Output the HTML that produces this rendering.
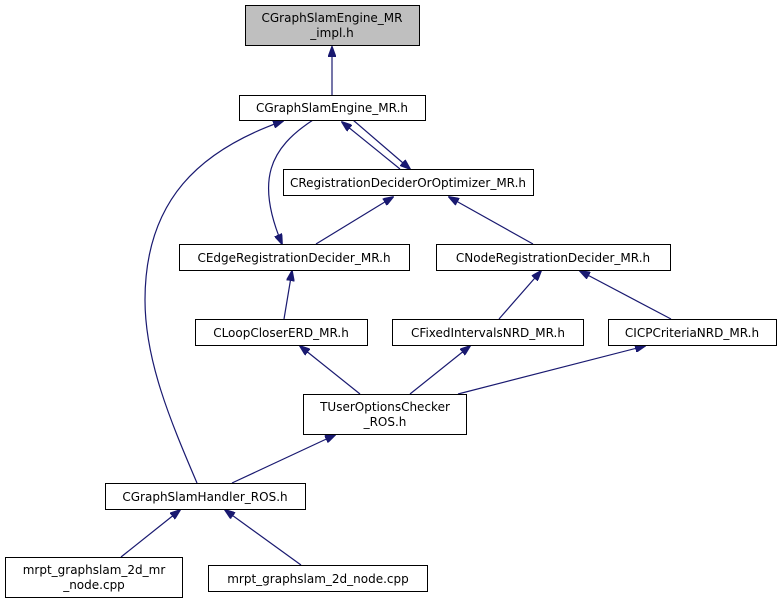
<!DOCTYPE html>
<html><head><meta charset="utf-8"><style>
html,body{margin:0;padding:0;background:#fff;}
svg{display:block;}
text{font-family:"DejaVu Sans","Liberation Sans",sans-serif;font-size:12px;fill:#000;}
</style></head><body>
<svg width="780" height="604" viewBox="0 0 780 604" xmlns="http://www.w3.org/2000/svg">
<defs>
<marker id="a" markerWidth="11" markerHeight="8" refX="10" refY="4" orient="auto" markerUnits="userSpaceOnUse">
<path d="M0,0 L11,4 L0,8 Z" fill="#191970" stroke="#191970"/>
</marker>
</defs>
<g fill="none" stroke="#191970" stroke-width="1.2" marker-end="url(#a)">
<path d="M332,95 L332,47"/>
<path d="M400,169 L342,122"/>
<path d="M353,120 L410,169"/>
<path d="M313,120 C270,148 255,180 282,244"/>
<path d="M197,483 C170,420 145,360 145,300 C145,200 200,150 283,121"/>
<path d="M316,244 L393,197"/>
<path d="M533,244 L449,197"/>
<path d="M284,319 L292,271"/>
<path d="M499,319 L541,271"/>
<path d="M671,319 L580,271"/>
<path d="M360,394 L300,346"/>
<path d="M410,394 L470,346"/>
<path d="M458,394 L645,346"/>
<path d="M232,483 L335,435"/>
<path d="M121,557 L180,510"/>
<path d="M301,565 L225,510"/>
</g>
<g stroke="#000" stroke-width="1">
<rect x="245.5" y="5.5" width="174" height="40" fill="#bfbfbf"/>
<rect x="239.5" y="95.5" width="186" height="25" fill="#fff"/>
<rect x="283.5" y="169.5" width="250" height="26" fill="#fff"/>
<rect x="179.5" y="244.5" width="230" height="26" fill="#fff"/>
<rect x="436.5" y="244.5" width="234" height="26" fill="#fff"/>
<rect x="195.5" y="319.5" width="172" height="26" fill="#fff"/>
<rect x="392.5" y="319.5" width="191" height="26" fill="#fff"/>
<rect x="608.5" y="319.5" width="168" height="26" fill="#fff"/>
<rect x="303.5" y="394.5" width="163" height="40" fill="#fff"/>
<rect x="105.5" y="483.5" width="200" height="26" fill="#fff"/>
<rect x="5.5" y="557.5" width="177" height="40" fill="#fff"/>
<rect x="208.5" y="565.5" width="219" height="26" fill="#fff"/>
</g>
<g text-anchor="middle">
<text x="332" y="22">CGraphSlamEngine_MR</text>
<text x="332" y="37">_impl.h</text>
<text x="332" y="112">CGraphSlamEngine_MR.h</text>
<text x="408" y="187">CRegistrationDeciderOrOptimizer_MR.h</text>
<text x="294" y="262">CEdgeRegistrationDecider_MR.h</text>
<text x="553" y="262">CNodeRegistrationDecider_MR.h</text>
<text x="281" y="337">CLoopCloserERD_MR.h</text>
<text x="488" y="337">CFixedIntervalsNRD_MR.h</text>
<text x="692" y="337">CICPCriteriaNRD_MR.h</text>
<text x="385" y="411">TUserOptionsChecker</text>
<text x="385" y="426">_ROS.h</text>
<text x="205" y="501">CGraphSlamHandler_ROS.h</text>
<text x="94" y="574">mrpt_graphslam_2d_mr</text>
<text x="94" y="589">_node.cpp</text>
<text x="318" y="583">mrpt_graphslam_2d_node.cpp</text>
</g>
</svg>
</body></html>
